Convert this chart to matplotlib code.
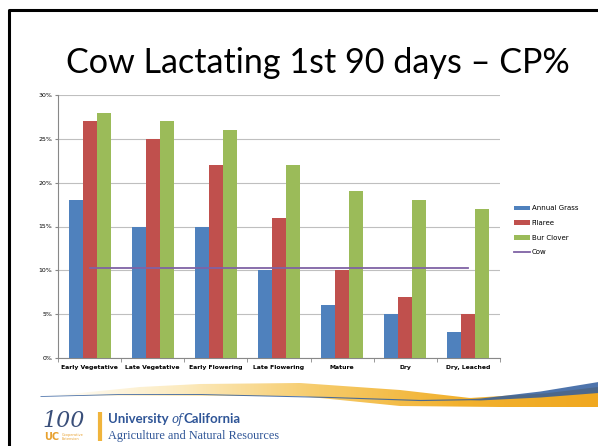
import numpy as np
import matplotlib
matplotlib.use("Agg")
import matplotlib.pyplot as plt
from matplotlib.colors import LinearSegmentedColormap
from matplotlib.patches import Polygon
from matplotlib.ticker import PercentFormatter

# ======================================================
# DATI
# ======================================================
stadi = ["Early Vegetative", "Late Vegetative", "Early Flowering",
         "Late Flowering", "Mature", "Dry", "Dry, Leached"]
annual_grass = [18, 15, 15, 10, 6, 5, 3]
filaree = [27, 25, 22, 16, 10, 7, 5]
bur_clover = [28, 27, 26, 22, 19, 18, 17]
cow = [10.3] * len(stadi)

serie = [("Annual Grass", annual_grass, "#4F81BD"),
         ("Filaree", filaree, "#C0504D"),
         ("Bur Clover", bur_clover, "#9BBB59")]

W, H = 598, 446
fig = plt.figure(figsize=(W / 100, H / 100), dpi=100)

# ======================================================
# SFONDO SLIDE (bordo, titolo, logo)
# ======================================================
bg = fig.add_axes([0, 0, 1, 1])
bg.set_xlim(0, W)
bg.set_ylim(H, 0)
bg.axis("off")

# bordo nero
bg.plot([9, 9, W], [H + 5, 10, 10], color="black", lw=2.2, solid_capstyle="butt")

bg.text(318, 63, "Cow Lactating 1st 90 days \u2013 CP%", fontsize=24.6,
        family="Lato", ha="center", va="center", color="black")

# swoosh (decorazione del modello di slide)
xs = np.linspace(40, W, 300)
yb = np.interp(xs, [40, 120, 200, 330, 420, 480, 540, 598],
               [396, 394, 394, 397, 400, 399, 394, 387])
bw_half = np.interp(xs, [40, 470, 540, 598], [0.4, 0.6, 3.0, 5.5])
ytop = np.interp(xs, [40, 80, 140, 200, 300, 400, 470, 598],
                 [396, 393, 387, 384, 383, 390, 398, 390])
ybot = np.interp(xs, [40, 300, 400, 500, 598], [396, 396, 406, 407, 407])
sup = np.minimum(ytop, yb)
inf = np.maximum(ybot, yb)
poly = Polygon(np.column_stack([np.r_[xs, xs[::-1]], np.r_[sup, inf[::-1]]]),
               closed=True, facecolor="none", edgecolor="none")
bg.add_patch(poly)
cmap = LinearSegmentedColormap.from_list(
    "giallo", ["#FFFFFF", "#FCEBC0", "#F6CB6A", "#F2B12E", "#F0A820"])
grad = np.linspace(0, 1, 256).reshape(1, -1)
img = bg.imshow(grad, cmap=cmap, extent=[40, W, 412, 378], aspect="auto",
                interpolation="bilinear", zorder=1)
img.set_clip_path(poly)
bg.fill_between(xs, yb - bw_half, yb + bw_half, color="#2F5C9E", lw=0,
                alpha=0.85, zorder=2)
bg.set_xlim(0, W)
bg.set_ylim(H, 0)

# logo
bg.text(42, 421, "100", fontsize=16, style="italic", color="#3A4F7A",
        family="DejaVu Serif", ha="left", va="center")
bg.text(44, 437, "UC", fontsize=7, color="#E8A12F", fontweight="bold",
        ha="left", va="center")
bg.text(62, 437, "Cooperative\nExtension", fontsize=2.5, color="#E8A12F",
        ha="left", va="center", linespacing=1.0)
bg.plot([100, 100], [412, 441], color="#F0B43C", lw=3, solid_capstyle="butt")
bg.text(108, 419, "University", fontsize=9.5, fontweight="bold", color="#2F5597",
        family="Lato", ha="left", va="center")
bg.text(171, 419, "of", fontsize=8.5, style="italic", color="#2F5597",
        family="DejaVu Serif", ha="left", va="center")
bg.text(184, 419, "California", fontsize=9.5, fontweight="bold", color="#2F5597",
        family="Lato", ha="left", va="center")
bg.text(108, 436, "Agriculture and Natural Resources", fontsize=8.8,
        color="#2F5597", family="Liberation Serif", ha="left", va="center")

# ======================================================
# GRAFICO
# ======================================================
ax = fig.add_axes([58 / W, 1 - 358 / H, (500 - 58) / W, (358 - 95) / H])
x = np.arange(len(stadi))
bw = 0.222
for i, (nome, vals, col) in enumerate(serie):
    ax.bar(x + (i - 1) * bw, vals, width=bw, color=col, label=nome, zorder=3)
ax.plot(x, cow, color="#7F62A5", lw=1.3, label="Cow", zorder=4)

ax.set_xlim(-0.5, len(stadi) - 0.5)
ax.set_ylim(0, 30)
ax.set_yticks(np.arange(0, 31, 5))
ax.yaxis.set_major_formatter(PercentFormatter(decimals=0))
ax.set_xticks(x)
ax.set_xticklabels(stadi, fontsize=4.4, fontweight="bold")
ax.tick_params(axis="y", labelsize=4.5, length=2, color="#888888", pad=2)
ax.tick_params(axis="x", length=0, pad=5)
ax.set_xticks(np.arange(-0.5, len(stadi)), minor=True)
ax.tick_params(axis="x", which="minor", length=3, color="#888888")
ax.grid(axis="y", color="#BFBFBF", lw=0.8, zorder=0)
for s in ["top", "right"]:
    ax.spines[s].set_visible(False)
ax.spines["left"].set_color("#888888")
ax.spines["bottom"].set_color("#888888")

handles, labels = ax.get_legend_handles_labels()
ordine = [1, 2, 3, 0]
ax.legend([handles[k] for k in ordine], [labels[k] for k in ordine],
          loc="center left", bbox_to_anchor=(1.018, 0.485), frameon=False,
          fontsize=5, handlelength=2.3, handleheight=0.7, labelspacing=1.25,
          handletextpad=0.2)

fig.savefig("out.png", dpi=100)
